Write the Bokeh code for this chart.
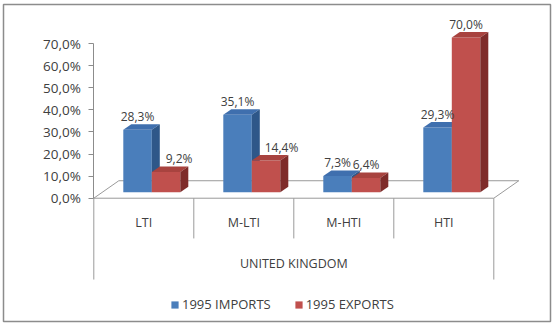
import numpy as np
from bokeh.plotting import figure
from bokeh.models import FixedTicker, Legend, LegendItem, Range1d
from bokeh.core.properties import value
from bokeh.embed import file_html
from bokeh.resources import INLINE

# ---------------- data ----------------
categories = ["LTI", "M-LTI", "M-HTI", "HTI"]
group_label = "UNITED KINGDOM"
series_names = ["1995 IMPORTS", "1995 EXPORTS"]
imports_1995 = [28.3, 35.1, 7.3, 29.3]
exports_1995 = [9.2, 14.4, 6.4, 70.0]
y_ticks = [0, 10, 20, 30, 40, 50, 60, 70]
y_tick_labels = ["0,0%", "10,0%", "20,0%", "30,0%", "40,0%", "50,0%", "60,0%", "70,0%"]


def pct(v):
    return f"{v:.1f}".replace(".", ",") + "%"


# ---------------- style / geometry ----------------
FONT = "Open Sans"
TXT = "#404040"
GRID = "#9a9a9a"
BAR_W = 0.285          # bar width (category units)
OX, OY = 0.08, 2.7     # offset of the bar plane from the floor front edge
DX, DY = 0.08, 2.5     # bar depth
FDX, FDY = 0.25, 7.9   # floor depth
# horizontal nudges of the data labels (to keep them clear of the neighbour bar)
LABEL_NUDGE = {0: [0, 0, 0, 0], 1: [0.13, 0.155, 0, 0]}

BLUE = ("#4A7EBB", "#3F6FAE", "#2E5789")   # front, top, side
RED = ("#C0504D", "#A8433F", "#7E2C2A")

n = len(categories)
centers = np.arange(n) + 0.5

p = figure(width=553, height=324,
           x_range=Range1d(-0.903, 4.567), y_range=Range1d(-55.79, 87.65),
           output_backend="svg", toolbar_location=None,
           x_axis_location=None, y_axis_location="left",
           min_border_left=3, min_border_right=3,
           min_border_top=4, min_border_bottom=3)
p.grid.visible = False
p.outline_line_color = "#8c8c8c"
p.outline_line_width = 1.5
p.background_fill_color = "white"

# y axis at x = 0
ax = p.yaxis[0]
ax.fixed_location = 0
ax.bounds = (0, 70)
ax.ticker = FixedTicker(ticks=y_ticks)
ax.major_label_overrides = {t: l for t, l in zip(y_ticks, y_tick_labels)}
ax.axis_line_color = "#8c8c8c"
ax.major_tick_line_color = "#8c8c8c"
ax.minor_tick_line_color = None
ax.major_tick_out = 5
ax.major_tick_in = 0
ax.major_label_standoff = 8
ax.major_label_text_font = FONT
ax.major_label_text_font_size = "13.5px"
ax.major_label_text_color = TXT

# floor
p.patch([0, n, n + FDX, FDX], [0, 0, FDY, FDY],
        fill_color="white", line_color=GRID, line_width=1)

# category table lines
p.segment(x0=np.arange(1, n), y0=0, x1=np.arange(1, n), y1=-18.2,
          line_color=GRID, line_width=1)
p.segment(x0=[0, n], y0=0, x1=[0, n], y1=-36.8,
          line_color=GRID, line_width=1)

# bars
renderers = []
label_x, label_y, label_t = [], [], []
for k, (vals, cols) in enumerate(((imports_1995, BLUE), (exports_1995, RED))):
    vals = np.array(vals, dtype=float)
    left = centers + OX - BAR_W if k == 0 else centers + OX
    right = left + BAR_W
    top = OY + vals
    r = p.quad(left=left, right=right, bottom=OY, top=top,
               fill_color=cols[0], line_color=None)
    renderers.append(r)
    p.patches(xs=[[l, l + DX, rr + DX, rr] for l, rr in zip(left, right)],
              ys=[[t, t + DY, t + DY, t] for t in top],
              fill_color=cols[1], line_color=None)
    p.patches(xs=[[rr, rr + DX, rr + DX, rr] for rr in right],
              ys=[[OY, OY + DY, t + DY, t] for t in top],
              fill_color=cols[2], line_color=None)
    label_x += list((left + right) / 2 + np.array(LABEL_NUDGE[k]))
    label_y += list(top + DY + 3.5)
    label_t += [pct(v) for v in vals]

p.text(x=label_x, y=label_y, text=label_t, text_align="center",
       text_baseline="middle", text_font=value(FONT),
       text_font_size="12px", text_color=TXT)

# category labels
p.text(x=centers, y=[-11.0] * n, text=categories, text_align="center",
       text_baseline="middle", text_font=value(FONT),
       text_font_size="12.5px", text_color=TXT)
p.text(x=[n / 2], y=[-29.5], text=[group_label], text_align="center",
       text_baseline="middle", text_font=value(FONT),
       text_font_size="12.5px", text_color=TXT)

legend = Legend(items=[LegendItem(label=series_names[0], renderers=[renderers[0]]),
                       LegendItem(label=series_names[1], renderers=[renderers[1]])],
                orientation="horizontal", location=(167, 8),
                glyph_width=9, glyph_height=9, label_standoff=3, spacing=23,
                padding=0, margin=0, border_line_color=None,
                background_fill_alpha=0,
                label_text_font=FONT, label_text_font_size="13px",
                label_text_color=TXT)
p.add_layout(legend)

open("out.html", "w").write(file_html(p, INLINE))
